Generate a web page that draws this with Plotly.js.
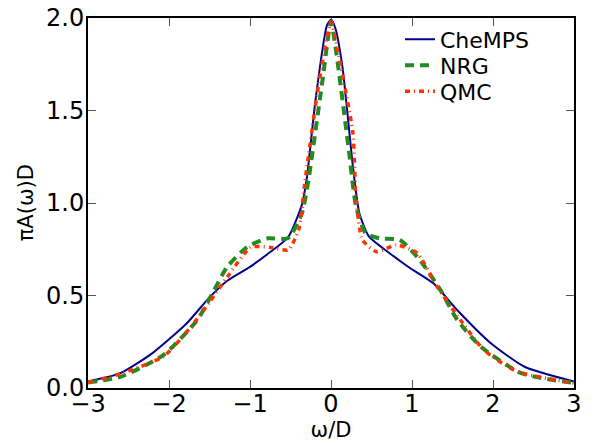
<!DOCTYPE html>
<html><head><meta charset="utf-8">
<script src="https://cdn.plot.ly/plotly-3.0.1.min.js"></script>
<style>body{margin:0;padding:0;background:#fff}#chart{width:596px;height:443px}</style>
</head><body><div id="chart"></div>
<script>
const chempsX = [-3.0,-2.6,-2.2,-1.78,-1.5,-1.28,-1.0,-0.75,-0.53,-0.36,-0.3,-0.19,-0.05,0.0,0.05,0.14,0.27,0.35,0.47,0.72,0.97,1.26,1.56,1.97,2.39,3.0];
const chempsY = [0.035,0.08,0.19,0.35,0.49,0.58,0.655,0.735,0.815,0.99,1.13,1.56,1.96,1.99,1.95,1.74,1.2,0.945,0.818,0.73,0.65,0.567,0.42,0.243,0.115,0.035];
const nrgX = [-3.0,-2.6,-2.07,-1.65,-1.49,-1.28,-1.03,-0.78,-0.53,-0.36,-0.28,-0.11,0.0,0.06,0.22,0.31,0.43,0.6,0.85,1.1,1.35,1.56,1.85,2.35,3.0];
const nrgY = [0.03,0.06,0.178,0.368,0.49,0.656,0.764,0.809,0.81,0.944,1.12,1.647,1.98,1.83,1.286,0.98,0.836,0.809,0.8,0.69,0.53,0.368,0.223,0.08,0.027];
const qmcX = [-3.0,-2.58,-2.07,-1.73,-1.49,-1.28,-0.99,-0.74,-0.53,-0.4,-0.32,-0.15,0.0,0.08,0.27,0.31,0.39,0.56,0.81,1.06,1.31,1.56,1.89,2.29,3.0];
const qmcY = [0.03,0.08,0.17,0.33,0.47,0.6,0.76,0.76,0.746,0.854,1.12,1.647,1.98,1.83,1.38,1.016,0.8,0.737,0.773,0.73,0.548,0.39,0.205,0.09,0.027];
const names = ["CheMPS","NRG","QMC"];
const xTicks = [-3,-2,-1,0,1,2,3];
const yTicks = [0.0,0.5,1.0,1.5,2.0];
const xTitle = 'ω/D';
const yTitle = 'πA(ω)D';

const data = [
  {x: chempsX, y: chempsY, name: names[0], legend: 'legend', mode: 'lines', line: {color: '#00008b', width: 2, shape: 'spline', smoothing: 0.6}},
  {x: nrgX, y: nrgY, name: names[1], legend: 'legend2', mode: 'lines', line: {color: '#228b22', width: 4, dash: '9px,6px', shape: 'spline', smoothing: 0.6}},
  {x: qmcX, y: qmcY, name: names[2], legend: 'legend3', mode: 'lines', line: {color: '#ff3300', width: 3.5, dash: '5px,4px,1px,4px', shape: 'spline', smoothing: 0.6}}
];
const axCommon = {showgrid: false, zeroline: false, showline: true, linecolor: '#000', linewidth: 2, mirror: 'ticks',
  ticks: 'inside', ticklen: 8, tickcolor: '#555', tickwidth: 1, tickfont: {family: 'DejaVu Sans', size: 24, color: '#000'}};
const legCommon = {x: 0.642, xanchor: 'left', yanchor: 'middle', bgcolor: 'rgba(0,0,0,0)', borderwidth: 0,
  font: {size: 22, family: 'DejaVu Sans', color: '#000'}, itemwidth: 30};
const layout = {
  width: 596, height: 443,
  margin: {l: 88, r: 22, t: 18, b: 55},
  paper_bgcolor: '#fff', plot_bgcolor: '#fff',
  font: {family: 'DejaVu Sans', color: '#000'},
  xaxis: Object.assign({}, axCommon, {range: [-3, 3], tickvals: xTicks, ticktext: xTicks.map(v => v < 0 ? '\u2212' + Math.abs(v) : String(v)),
    ticklabelstandoff: -7,
    title: {text: xTitle, font: {size: 21, family: 'DejaVu Sans'}, standoff: 5}}),
  yaxis: Object.assign({}, axCommon, {range: [0, 2], tickvals: yTicks, ticktext: yTicks.map(v => v.toFixed(1)),
    ticklabelstandoff: -3}),
  annotations: [{text: yTitle, xref: 'paper', yref: 'paper', x: -0.127, y: 0.5, xanchor: 'center', yanchor: 'middle',
    textangle: -90, showarrow: false, font: {size: 21, family: 'DejaVu Sans', color: '#000'}}],
  showlegend: true,
  legend: Object.assign({}, legCommon, {y: 0.9419}),
  legend2: Object.assign({}, legCommon, {y: 0.8716}),
  legend3: Object.assign({}, legCommon, {y: 0.8014})
};
Plotly.newPlot('chart', data, layout, {displayModeBar: false, staticPlot: true});
</script></body></html>
